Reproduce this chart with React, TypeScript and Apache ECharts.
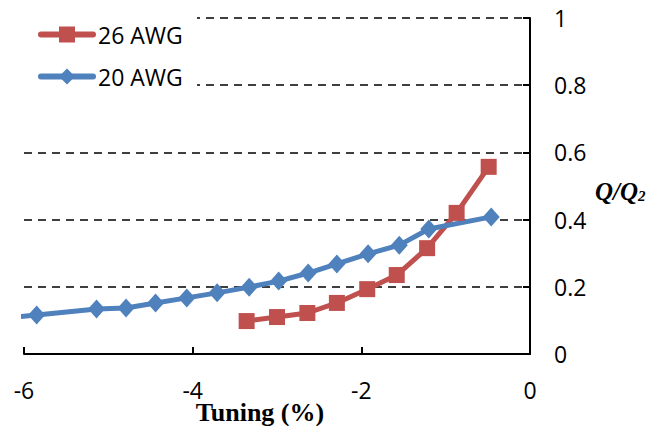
import React, { useEffect, useRef } from "react";
import * as echarts from "echarts";

const seriesNames = ["26 AWG", "20 AWG"];
const awg26X = [-3.36, -3.0, -2.64, -2.29, -1.93, -1.58, -1.22, -0.87, -0.49];
const awg26Y = [0.098, 0.11, 0.122, 0.152, 0.193, 0.235, 0.315, 0.42, 0.557];
const awg20X = [-6.22, -5.85, -5.14, -4.79, -4.44, -4.07, -3.71, -3.33, -2.98, -2.63, -2.29, -1.92, -1.55, -1.2, -0.46];
const awg20Y = [0.107, 0.116, 0.134, 0.137, 0.152, 0.167, 0.182, 0.199, 0.217, 0.241, 0.268, 0.298, 0.324, 0.372, 0.408];
const xTicks = { min: -6, max: 0, interval: 2 };
const yTicks = { min: 0, max: 1, interval: 0.2 };

const pairs = (xs: number[], ys: number[]) => xs.map((x, i) => [x, ys[i]]);

export default function App() {
  const ref = useRef<HTMLDivElement>(null);
  useEffect(() => {
    if (!ref.current) return;
    const chart = echarts.init(ref.current, null, { renderer: "svg" });
    const sans = "Open Sans";
    const serif = "Liberation Serif";
    chart.setOption({
      animation: false,
      backgroundColor: "#ffffff",
      grid: { left: 24, right: 116, top: 18, bottom: 72 },
      legend: {
        orient: "vertical",
        left: 38,
        top: 23,
        padding: 0,
        itemWidth: 52,
        itemHeight: 20,
        itemGap: 19,
        z: 10,
        lineStyle: { width: 6, cap: "round" },
        textStyle: { fontFamily: sans, fontSize: 23, color: "#000" },
        data: seriesNames,
      },
      graphic: [
        {
          type: "rect",
          z: 5,
          shape: { x: 0, y: 0, width: 197, height: 96 },
          style: { fill: "#ffffff" },
        },
        {
          type: "text",
          x: 260,
          y: 412,
          style: {
            text: "Tuning (%)",
            fontFamily: serif,
            fontWeight: "bold",
            fontSize: 26,
            fill: "#000",
            align: "center",
            verticalAlign: "middle",
          },
        },
        {
          type: "text",
          x: 595,
          y: 191,
          style: {
            text: "{a|Q/Q}{b|2}",
            align: "left",
            verticalAlign: "middle",
            rich: {
              a: { fontFamily: serif, fontStyle: "italic", fontWeight: "bold", fontSize: 25, fill: "#000" },
              b: { fontFamily: serif, fontStyle: "italic", fontWeight: "bold", fontSize: 15, fill: "#000", verticalAlign: "bottom" },
            },
          },
        },
      ],
      xAxis: {
        type: "value",
        min: xTicks.min,
        max: xTicks.max,
        interval: xTicks.interval,
        axisLine: { onZero: false, lineStyle: { color: "#000", width: 2 } },
        axisTick: { inside: true, length: 7, lineStyle: { color: "#000", width: 2 } },
        axisLabel: { margin: 24, fontFamily: sans, fontSize: 23, color: "#000" },
        splitLine: { show: false },
      },
      yAxis: {
        type: "value",
        position: "right",
        min: yTicks.min,
        max: yTicks.max,
        interval: yTicks.interval,
        axisLine: { show: true, onZero: false, lineStyle: { color: "#000", width: 2 } },
        axisTick: { show: true, inside: true, length: 7, lineStyle: { color: "#000", width: 2 } },
        axisLabel: { margin: 24, fontFamily: sans, fontSize: 23, color: "#000" },
        splitLine: { show: true, lineStyle: { color: "#000", width: 1.6, type: [8, 6] } },
      },
      series: [
        {
          name: seriesNames[0],
          type: "line",
          data: pairs(awg26X, awg26Y),
          symbol: "rect",
          symbolSize: 16,
          color: "#C0504D",
          lineStyle: { width: 5, color: "#C0504D", cap: "round", join: "round" },
          itemStyle: { color: "#C0504D" },
          clip: true,
        },
        {
          name: seriesNames[1],
          type: "line",
          data: pairs(awg20X, awg20Y),
          symbol: "diamond",
          symbolSize: [17, 19],
          color: "#4F81BD",
          lineStyle: { width: 5, color: "#4F81BD", cap: "round", join: "round" },
          itemStyle: { color: "#4F81BD" },
          clip: true,
        },
      ],
    });
    return () => chart.dispose();
  }, []);
  return <div ref={ref} style={{ width: 646, height: 426, position: "absolute", left: 0, top: 0 }} />;
}
